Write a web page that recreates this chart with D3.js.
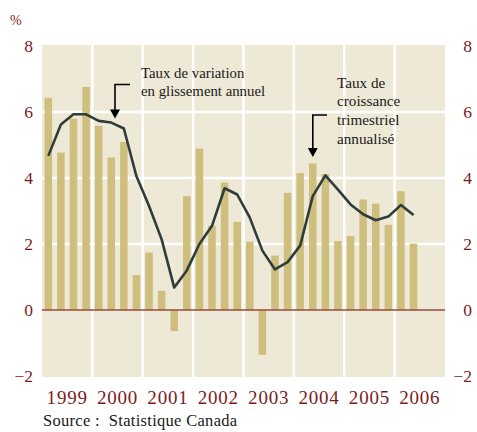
<!DOCTYPE html>
<html>
<head>
<meta charset="utf-8">
<script src="https://cdn.jsdelivr.net/npm/d3@7"></script>
<style>
  html, body { margin: 0; padding: 0; background: #fff; }
  svg text { font-family: "Liberation Serif", "DejaVu Serif", "Times New Roman", serif; }
</style>
</head>
<body>
<div id="app"></div>
<script>
// data
const years = ["1999", "2000", "2001", "2002", "2003", "2004", "2005", "2006"];
// taux de croissance trimestriel annualisé (barres)
const quarterly = [6.43, 4.77, 5.8, 6.76, 5.58, 4.62, 5.09, 1.06,
                   1.74, 0.58, -0.64, 3.45, 4.89, 2.55, 3.86, 2.67,
                   2.07, -1.36, 1.65, 3.55, 4.15, 4.44, 4.12, 2.09,
                   2.24, 3.35, 3.22, 2.58, 3.6, 2.01];
// taux de variation en glissement annuel (ligne)
const annual = [4.67, 5.62, 5.93, 5.93, 5.73, 5.68, 5.5, 4.05,
                3.15, 2.14, 0.68, 1.2, 2.0, 2.55, 3.69, 3.5,
                2.8, 1.8, 1.23, 1.45, 1.95, 3.45, 4.08, 3.65,
                3.2, 2.9, 2.72, 2.83, 3.18, 2.88];
const yTicks = [-2, 0, 2, 4, 6, 8];

const width = 477, height = 432,
  plot = { left: 42, right: 445, top: 46, bottom: 376 },
  red = "#7b1c1c",
  serif = "'Liberation Serif', 'DejaVu Serif', serif";

// one slot per quarter, 8 years x 4
const quarters = d3.range(years.length * 4);

const svg = d3.select("#app")
.append("svg")
  .attr("width", width)
  .attr("height", height);

const x = d3.scaleBand()
  .domain(quarters)
  .range([plot.left, plot.right])
  .paddingInner(0.4)
  .paddingOuter(0.2);

const xYear = d3.scaleBand()
  .domain(years)
  .range([plot.left, plot.right]);

const y = d3.scaleLinear()
  .domain([-2, 8])
  .range([plot.bottom, plot.top]);

/* fond */
svg.append("rect")
  .attr("x", plot.left)
  .attr("y", y(8) - 1)
  .attr("width", plot.right - plot.left)
  .attr("height", y(-2) - y(8) + 2)
  .attr("fill", "#eee8d6");

/* grille blanche */
svg.append("g")
.selectAll("line")
.data(yTicks.filter(d => d > -2 && d < 8 && d !== 0))
.enter()
.append("line")
  .attr("x1", plot.left).attr("x2", plot.right)
  .attr("y1", d => y(d)).attr("y2", d => y(d))
  .attr("stroke", "#fff")
  .attr("stroke-width", 2.5);

svg.append("g")
.selectAll("line")
.data(years.slice(1))
.enter()
.append("line")
  .attr("x1", d => xYear(d)).attr("x2", d => xYear(d))
  .attr("y1", y(8) - 1).attr("y2", y(-2) + 1)
  .attr("stroke", "#fff")
  .attr("stroke-width", 2.5);

/* barres */
svg.append("g")
.selectAll("rect")
.data(quarterly)
.enter()
.append("rect")
  .attr("x", (d, i) => x(i))
  .attr("width", x.bandwidth())
  .attr("y", d => y(Math.max(0, d)))
  .attr("height", d => Math.abs(y(d) - y(0)))
  .attr("fill", "#cfbf7e");

/* ligne zéro */
svg.append("line")
  .attr("x1", plot.left).attr("x2", plot.right)
  .attr("y1", y(0)).attr("y2", y(0))
  .attr("stroke", "#9a4a3c")
  .attr("stroke-width", 1.5);

/* ligne glissement annuel */
const line = d3.line()
  .x((d, i) => x(i) + x.bandwidth() / 2)
  .y(d => y(d));

svg.append("path")
  .datum(annual)
  .attr("d", line)
  .attr("fill", "none")
  .attr("stroke", "#2f3d3a")
  .attr("stroke-width", 2.6)
  .attr("stroke-linejoin", "round");

/* axes y gauche et droite */
const yAxisL = d3.axisLeft(y).tickValues(yTicks).tickSize(0).tickPadding(9);
const yAxisR = d3.axisRight(y).tickValues(yTicks).tickSize(0).tickPadding(0);

svg.append("g")
  .attr("transform", `translate(${plot.left},0)`)
  .call(yAxisL)
  .call(g => g.select(".domain").remove());

svg.append("g")
  .attr("transform", `translate(472,0)`)
  .call(yAxisR)
  .call(g => g.select(".domain").remove())
  .call(g => g.selectAll("text").attr("text-anchor", "end"));

svg.selectAll(".tick text")
  .attr("font-family", serif)
  .attr("font-size", 17.5)
  .attr("fill", red)
  .attr("dy", "0.3em");

/* axe x : années */
const xAxis = d3.axisBottom(xYear).tickSize(0).tickPadding(0);
svg.append("g")
  .attr("transform", `translate(0,390)`)
  .call(xAxis)
  .call(g => g.select(".domain").remove())
  .call(g => g.selectAll("text")
    .attr("font-family", serif)
    .attr("font-size", 19)
    .attr("letter-spacing", 0.8)
    .attr("fill", red)
    .attr("dy", "0.72em"));

svg.append("text")
  .attr("x", 10).attr("y", 25)
  .attr("font-family", serif)
  .attr("font-size", 14)
  .attr("fill", red)
  .text("%");

/* annotations */
const note1 = svg.append("text")
  .attr("x", 141).attr("y", 78)
  .attr("font-family", serif)
  .attr("font-size", 14.8)
  .attr("fill", "#1a1a1a");
["Taux de variation", "en glissement annuel"].forEach((t, i) =>
  note1.append("tspan").attr("x", 141).attr("dy", i ? 17.5 : 0).text(t));

const note2 = svg.append("text")
  .attr("x", 337).attr("y", 87.5)
  .attr("font-family", serif)
  .attr("font-size", 15.2)
  .attr("fill", "#1a1a1a");
["Taux de", "croissance", "trimestriel", "annualisé"].forEach((t, i) =>
  note2.append("tspan").attr("x", 337).attr("dy", i ? 18.8 : 0).text(t));

// flèches coudées
function arrow(x0, x1, yTop, yTip) {
  svg.append("path")
    .attr("d", `M${x1},${yTop}H${x0}V${yTip - 8}`)
    .attr("fill", "none")
    .attr("stroke", "#000")
    .attr("stroke-width", 1.6);
  svg.append("path")
    .attr("d", `M${x0 - 5},${yTip - 9}L${x0 + 5},${yTip - 9}L${x0},${yTip}Z`)
    .attr("fill", "#000");
}
arrow(115, 130, 84.5, 118.5);
arrow(312.8, 327, 115, 157);

svg.append("text")
  .attr("x", 43).attr("y", 426)
  .attr("font-family", serif)
  .attr("font-size", 16.5)
  .attr("letter-spacing", 0.3)
  .attr("fill", "#1a1a1a")
  .attr("xml:space", "preserve")
  .text("Source :  Statistique Canada");
</script>
</body>
</html>
